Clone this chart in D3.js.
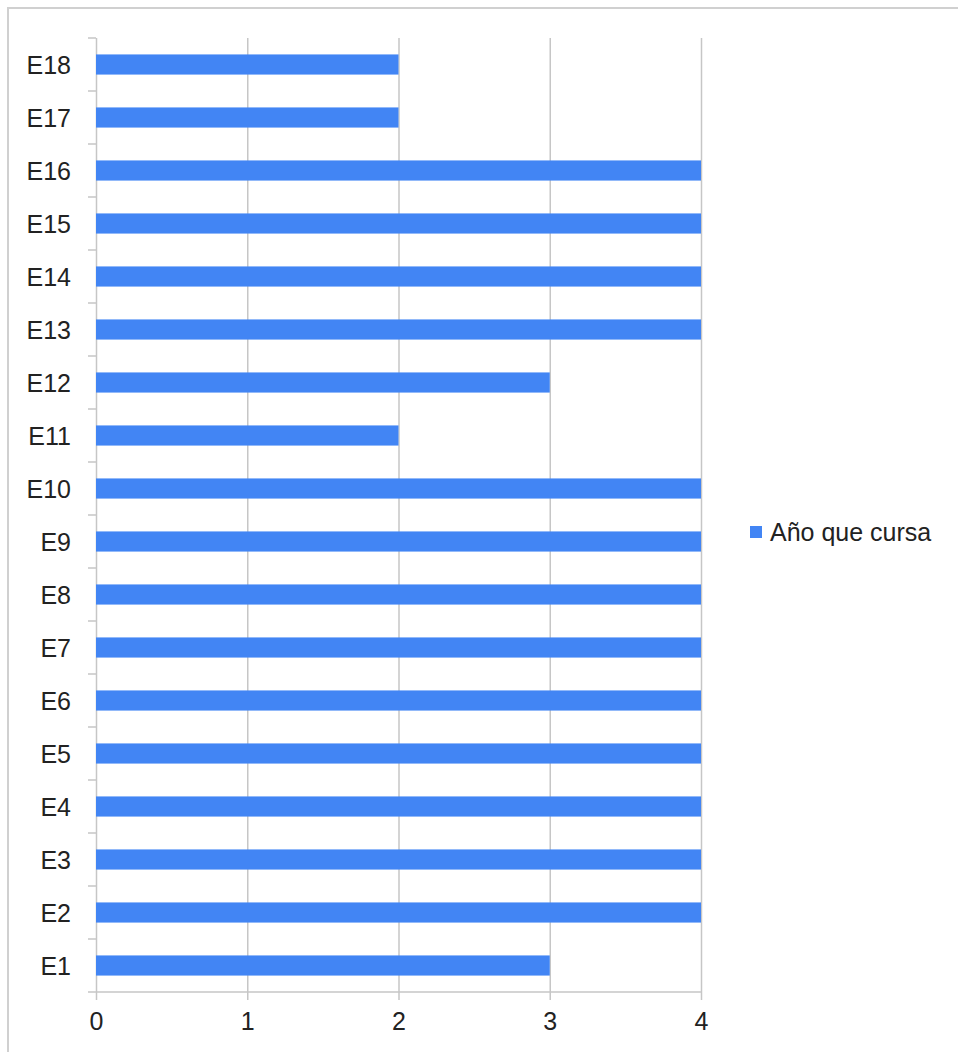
<!DOCTYPE html>
<html>
<head>
<meta charset="utf-8">
<script src="https://cdn.jsdelivr.net/npm/d3@7"></script>
<style>
  html, body { margin: 0; padding: 0; background: #fff; }
  svg { display: block; }
  text { font-family: "Liberation Sans", Arial, sans-serif; fill: #222; }
</style>
</head>
<body>
<svg id="chart" width="958" height="1052"></svg>
<script>
// Students and the year each one is currently studying
const categories = ["E1","E2","E3","E4","E5","E6","E7","E8","E9","E10","E11","E12","E13","E14","E15","E16","E17","E18"];
const values = [3,4,4,4,4,4,4,4,4,4,2,3,4,4,4,4,2,2];
const xTicks = [0,1,2,3,4];
const seriesName = "Año que cursa";

const svg = d3.select("#chart");
const W = 958, H = 1052;
const plot = { left: 96, right: 701, top: 38, bottom: 992 };
const blue = "#4285f4";
const grid = "#c6c6c6";
const fontSize = 25;

// outer frame of the chart
svg.append("rect")
  .attr("x", 8).attr("y", 8)
  .attr("width", W + 20).attr("height", H + 20)
  .attr("fill", "none").attr("stroke", "#d0d0d0").attr("stroke-width", 2);

const x = d3.scaleLinear().domain([0, 4]).range([plot.left, plot.right]);
const y = d3.scaleBand()
  .domain(categories.slice().reverse())
  .range([plot.top, plot.bottom])
  .paddingInner(0.62).paddingOuter(0.31);

// vertical grid lines with tick marks below the axis
const xAxis = d3.axisBottom(x)
  .tickValues(xTicks)
  .tickFormat(d3.format("d"))
  .tickSize(-(plot.bottom - plot.top))
  .tickSizeOuter(0)
  .tickPadding(20);
const gx = svg.append("g").attr("transform", `translate(0,${plot.bottom})`).call(xAxis);
gx.select(".domain").remove();
gx.selectAll(".tick line").attr("stroke", grid).attr("stroke-width", 1.5);
gx.selectAll(".tick").append("line")
  .attr("y1", 0).attr("y2", 8)
  .attr("stroke", grid).attr("stroke-width", 1.5);
gx.selectAll(".tick text")
  .attr("font-size", fontSize).attr("fill", "#222").attr("dy", "0.71em");

// left axis: tick marks sit on the boundaries between categories
const bandStep = (plot.bottom - plot.top) / categories.length;
const boundaries = d3.range(categories.length + 1).map(i => plot.top + i * bandStep);
svg.append("g").selectAll("line").data(boundaries).join("line")
  .attr("x1", plot.left - 8).attr("x2", plot.left)
  .attr("y1", d => d).attr("y2", d => d)
  .attr("stroke", grid).attr("stroke-width", 1.5);

// horizontal baseline
svg.append("line")
  .attr("x1", plot.left).attr("x2", plot.right)
  .attr("y1", plot.bottom).attr("y2", plot.bottom)
  .attr("stroke", grid).attr("stroke-width", 1.5);

// category labels
svg.append("g").selectAll("text").data(categories).join("text")
  .attr("x", 71)
  .attr("y", d => y(d) + y.bandwidth() / 2)
  .attr("dy", "0.36em")
  .attr("text-anchor", "end")
  .attr("font-size", fontSize)
  .text(d => d);

// bars
svg.append("g").selectAll("rect").data(categories).join("rect")
  .attr("x", x(0))
  .attr("y", d => y(d))
  .attr("width", (d, i) => x(values[i]) - x(0))
  .attr("height", y.bandwidth())
  .attr("fill", blue);

// legend
const lg = svg.append("g").attr("transform", "translate(750,526)");
lg.append("rect").attr("width", 12).attr("height", 12).attr("fill", blue);
lg.append("text").attr("x", 20).attr("y", 6).attr("dy", "0.36em")
  .attr("font-size", fontSize).text(seriesName);
</script>
</body>
</html>
